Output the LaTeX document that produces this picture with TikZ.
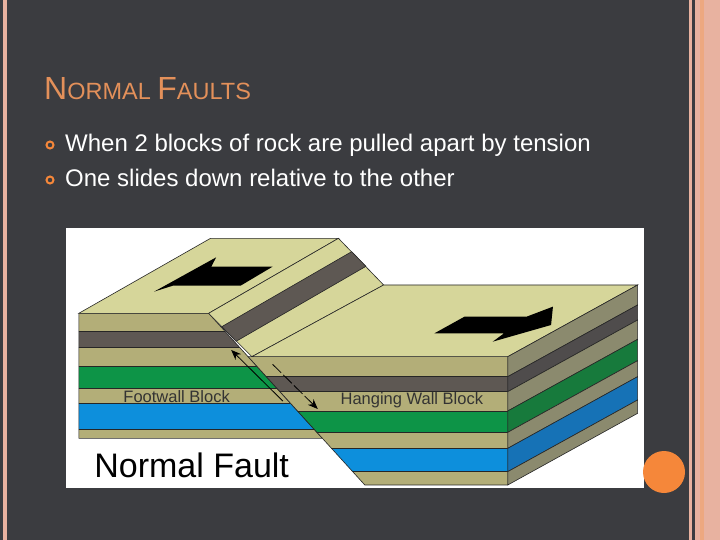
\documentclass[tikz,border=0pt]{standalone}
\usepackage{fontspec}
\setmainfont{Liberation Sans}
\usetikzlibrary{arrows.meta}
\definecolor{bg}{HTML}{3B3C40}
\definecolor{pinkc}{HTML}{E8B2A0}
\definecolor{orng}{HTML}{F5873A}
\definecolor{ttl}{HTML}{E3905A}
\definecolor{tan}{HTML}{B3AE78}
\definecolor{topy}{HTML}{D6D69A}
\definecolor{gry}{HTML}{5E5853}
\definecolor{grn}{HTML}{0D9447}
\definecolor{blu}{HTML}{0D8FDC}
\definecolor{stan}{HTML}{8B8A6E}
\definecolor{sgry}{HTML}{4F4C4C}
\definecolor{sgrn}{HTML}{177A3C}
\definecolor{sblu}{HTML}{1672B6}
\tikzset{edge/.style={draw=black!85,line width=0.6pt},
lbl/.style={inner sep=0,text=black!80}}
\begin{document}
\begin{tikzpicture}[x=1pt,y=-1pt]
\useasboundingbox (0,0) rectangle (720,540);
\fill[bg] (0,0) rectangle (720,540);
\fill[pinkc] (3,0) rectangle (7,540);
\fill[pinkc] (689,0) rectangle (692,540);
\fill[pinkc] (695,0) rectangle (720,540);
\fill[pinkc!80!orange] (700,0) rectangle (704,540);
\node[anchor=base west,inner sep=0,text=ttl] (title) at (44,100) {\fontsize{32}{32}\selectfont N\fontsize{23.5}{23.5}\selectfont ORMAL \fontsize{32}{32}\selectfont F\fontsize{23.5}{23.5}\selectfont AULTS};
\node[anchor=base west,inner sep=0,text=white] (b1) at (65,152) {\fontsize{24}{24}\selectfont When 2 blocks of rock are pulled apart by tension};
\node[anchor=base west,inner sep=0,text=white] (b2) at (65,187) {\fontsize{24}{24}\selectfont One slides down relative to the other};
\draw[orng,line width=2pt] (50,145) circle (3.5) (50,180) circle (3.5);
\fill[white] (66,228) rectangle (644,488);
\fill[orng] (664,472) circle (21);
\begin{scope}[shift={(60,225)},x=0.3763pt,y=-0.3333pt]
% footwall front
\begin{scope}
\clip (50,265) -- (395,265) -- (697,640) -- (50,640) -- cycle;
\fill[tan] (0,265) rectangle (800,320);
\fill[gry] (0,320) rectangle (800,368);
\fill[tan] (0,368) rectangle (800,425);
\fill[grn] (0,425) rectangle (800,490);
\fill[tan] (0,490) rectangle (800,535);
\fill[blu] (0,535) rectangle (800,612);
\fill[tan] (0,612) rectangle (800,640);
\draw[edge] (0,320)--(800,320) (0,368)--(800,368) (0,425)--(800,425) (0,490)--(800,490) (0,535)--(800,535) (0,612)--(800,612);
\end{scope}
\draw[edge] (50,265) -- (395,265) -- (697,640) -- (50,640) -- cycle;
% footwall top
\filldraw[fill=topy,edge] (50,265) -- (400,40) -- (740,40) -- (395,265) -- cycle;
% scarp
\filldraw[fill=topy,edge] (395,265) -- (740,40) -- (860,180) -- (510,395) -- cycle;
\filldraw[fill=gry,edge] (430,305) -- (775,80) -- (813,124) -- (468,349) -- cycle;
% hanging wall front
\begin{scope}
\clip (500,395) -- (1190,395) -- (1190,780) -- (810,780) -- cycle;
\fill[tan] (400,395) rectangle (1200,455);
\fill[gry] (400,455) rectangle (1200,500);
\fill[tan] (400,500) rectangle (1200,558);
\fill[grn] (400,558) rectangle (1200,622);
\fill[tan] (400,622) rectangle (1200,670);
\fill[blu] (400,670) rectangle (1200,740);
\fill[tan] (400,740) rectangle (1200,780);
\draw[edge] (400,455)--(1200,455) (400,500)--(1200,500) (400,558)--(1200,558) (400,622)--(1200,622) (400,670)--(1200,670) (400,740)--(1200,740);
\end{scope}
\draw[edge] (500,395) -- (1190,395) -- (1190,780) -- (810,780) -- cycle;
% hanging top
\filldraw[fill=topy,edge] (510,395) -- (860,180) -- (1535,180) -- (1190,395) -- cycle;
% side face
\foreach \a/\b/\c in {395/455/stan,455/500/sgry,500/558/stan,558/622/sgrn,622/670/stan,670/740/sblu,740/780/stan}{
\filldraw[fill=\c,edge] (1190,\a) -- (1535,\a-215) -- (1535,\b-215) -- (1190,\b) -- cycle;}
% arrows
\fill[black] (250,200) -- (415,97) -- (402,125) -- (565,125) -- (480,182) -- (300,182) -- cycle;
\fill[black] (995,325) -- (1075,275) -- (1240,275) -- (1310,245) -- (1305,300) -- (1150,350) -- (1180,325) -- cycle;
\coordinate (a1) at (455,375); \coordinate (a2) at (592,528);
\coordinate (a3) at (565,418); \coordinate (a4) at (685,552);
\draw[-{Stealth[length=10,width=8]},line width=0.8pt] (a2) -- (a1);
\draw[-{Stealth[length=10,width=8]},line width=0.8pt,dash pattern=on 12pt off 3pt] (a3) -- (a4);
\node[lbl] (fw) at (310,515) {\fontsize{16.5}{16.5}\selectfont Footwall Block};
\node[lbl] (hw) at (935,525) {\fontsize{16.5}{16.5}\selectfont Hanging Wall Block};
\node[lbl,text=black] (nf) at (350,722) {\fontsize{34}{34}\selectfont Normal Fault};
\end{scope}
\end{tikzpicture}
\end{document}
